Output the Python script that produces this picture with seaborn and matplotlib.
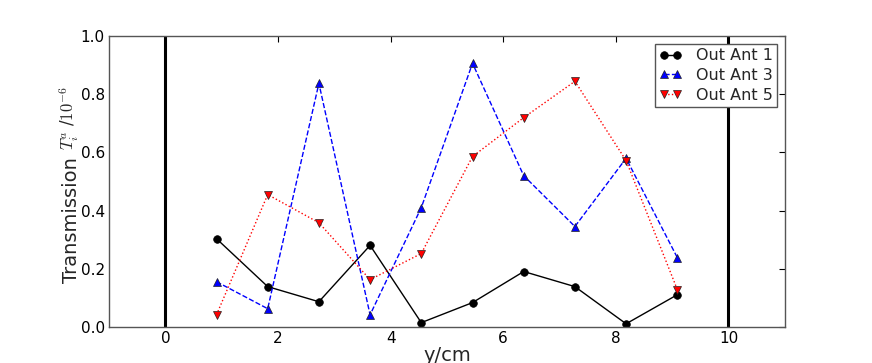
import numpy as np
import pandas as pd
import seaborn as sns
import matplotlib
matplotlib.use("Agg")
import matplotlib.pyplot as plt

positions = [0.909, 1.818, 2.727, 3.636, 4.545, 5.455, 6.364, 7.273, 8.182, 9.091]
ant1 = [0.303, 0.138, 0.086, 0.280, 0.014, 0.083, 0.190, 0.138, 0.010, 0.110]
ant3 = [0.155, 0.062, 0.838, 0.041, 0.410, 0.907, 0.520, 0.345, 0.580, 0.238]
ant5 = [0.041, 0.455, 0.358, 0.162, 0.252, 0.586, 0.720, 0.845, 0.572, 0.128]
labels = ["Out Ant 1", "Out Ant 3", "Out Ant 5"]
walls = [0, 10]

sns.set_style("white")
plt.rcParams["font.family"] = ["DejaVu Sans"]
plt.rcParams["mathtext.fontset"] = "cm"

W, H = 872, 363
fig = plt.figure(figsize=(W / 100, H / 100), dpi=100)
ax = fig.add_axes([0.125, 0.1, 0.775, 0.8])

styles = [
    dict(color="black", linestyle="-", marker="o"),
    dict(color="blue", linestyle="--", marker="^"),
    dict(color="red", linestyle=":", marker="v"),
]
for vals, lab, st in zip([ant1, ant3, ant5], labels, styles):
    df = pd.DataFrame({"y": positions, "T": vals})
    sns.lineplot(data=df, x="y", y="T", ax=ax, label=lab, color=st["color"],
                 linestyle=st["linestyle"], marker=st["marker"], markersize=5.5,
                 markeredgecolor="black" if st["marker"] == "o" else "#222222",
                 markeredgewidth=0.5, linewidth=1)

for w in walls:
    ax.axvline(w, color="black", linewidth=2.2, zorder=1)

ax.set_xlim(-1, 11)
ax.set_ylim(0, 1.0)
ax.set_xticks([0, 2, 4, 6, 8, 10])
ax.set_yticks([0.0, 0.2, 0.4, 0.6, 0.8, 1.0])
ax.set_yticklabels(["0.0", "0.2", "0.4", "0.6", "0.8", "1.0"])
ax.tick_params(direction="in", length=4, width=0.8, top=True, right=True,
               labelsize=11, colors="black", pad=3)
for sp in ax.spines.values():
    sp.set_color("#555555")
    sp.set_linewidth(1.0)
ax.set_xlabel("y/cm", fontsize=14, labelpad=0)
ax.set_ylabel("")

fig.text(77 / W, 1 - 283 / H, "Transmission", rotation=90, rotation_mode="anchor",
         ha="left", va="baseline", fontsize=14)
fig.text(75 / W, 1 - 150 / H, r"$T_i^a$ /$10^{-6}$", rotation=90, rotation_mode="anchor",
         ha="left", va="baseline", fontsize=12)

leg = ax.legend(loc="upper right", fontsize=11.5, numpoints=2, fancybox=False,
                framealpha=1, edgecolor="#555555", handlelength=1.4,
                borderpad=0.25, labelspacing=0.3, handletextpad=0.9)
leg.get_frame().set_linewidth(1.0)

fig.savefig("out.png", dpi=100)
